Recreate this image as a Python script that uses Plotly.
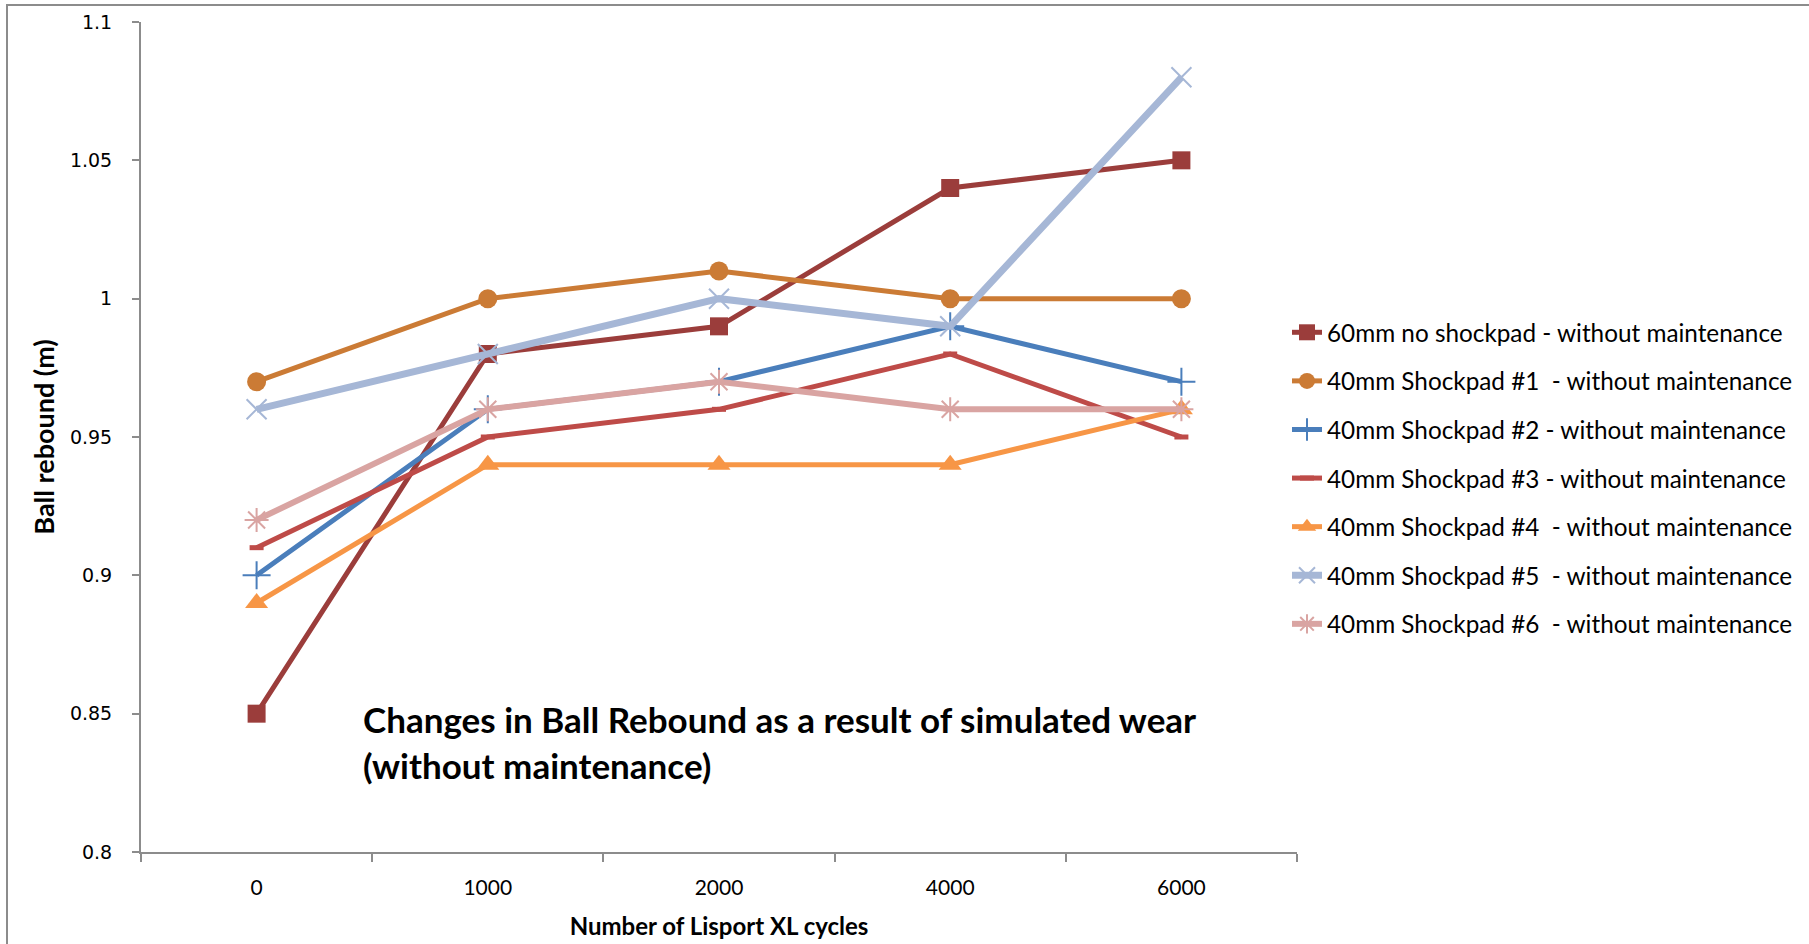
import plotly.graph_objects as go

# Wear cycles applied with the Lisport XL machine
cycles = ["0", "1000", "2000", "4000", "6000"]

# Ball rebound height (m) after each block of cycles
no_shockpad_60mm = [0.85, 0.98, 0.99, 1.04, 1.05]
shockpad_1 = [0.97, 1.00, 1.01, 1.00, 1.00]
shockpad_2 = [0.90, 0.96, 0.97, 0.99, 0.97]
shockpad_3 = [0.91, 0.95, 0.96, 0.98, 0.95]
shockpad_4 = [0.89, 0.94, 0.94, 0.94, 0.96]
shockpad_5 = [0.96, 0.98, 1.00, 0.99, 1.08]
shockpad_6 = [0.92, 0.96, 0.97, 0.96, 0.96]

series_names = [
    "60mm no shockpad - without maintenance",
    "40mm Shockpad #1  - without maintenance",
    "40mm Shockpad #2 - without maintenance",
    "40mm Shockpad #3 - without maintenance",
    "40mm Shockpad #4  - without maintenance",
    "40mm Shockpad #5  - without maintenance",
    "40mm Shockpad #6  - without maintenance",
]

y_tick_values = [0.8, 0.85, 0.9, 0.95, 1.0, 1.05, 1.1]
y_tick_labels = ["0.8", "0.85", "0.9", "0.95", "1", "1.05", "1.1"]

# (values, colour, line width, marker symbol, marker size, marker outline width)
styles = [
    (no_shockpad_60mm, "#9B3D3B", 5, "square", 18, 0),
    (shockpad_1, "#CB7B35", 5, "circle", 19, 0),
    (shockpad_2, "#4A7EBB", 5, "cross-thin-open", 20, 2),
    (shockpad_3, "#BE4B48", 5, "line-ew-open", 10, 5),
    (shockpad_4, "#F79646", 5, "triangle-up", 20, 0),
    (shockpad_5, "#A6B7D6", 7, "x-thin-open", 20, 2),
    (shockpad_6, "#D9A4A2", 6, "asterisk-open", 20, 2),
]

fig = go.Figure()
for i, (name, (vals, color, lw, sym, msize, mlw)) in enumerate(zip(series_names, styles)):
    fig.add_trace(go.Scatter(
        x=cycles, y=vals, name=name, mode="lines+markers",
        legendgroup=f"g{i}",
        line=dict(color=color, width=lw),
        marker=dict(symbol=sym, size=msize, color=color,
                    line=dict(color=color, width=mlw)),
    ))

W, H = 1809, 944
L, R, T, B = 141, 1297, 22, 852
pw, ph = R - L, B - T

def px_x(p):
    return (p - L) / pw

def px_y(p):
    return (B - p) / ph

axis_grey = "#8C8C8C"

fig.update_layout(
    width=W, height=H,
    margin=dict(l=L, r=W - R, t=T, b=H - B, pad=0, autoexpand=False),
    paper_bgcolor="white", plot_bgcolor="white",
    showlegend=True,
    legend=dict(
        x=px_x(1287), y=px_y(310), xanchor="left", yanchor="top",
        font=dict(family="Lato", size=24.3, color="#000000"),
        traceorder="grouped", tracegroupgap=14,
        bgcolor="rgba(0,0,0,0)",
    ),
    xaxis=dict(
        type="category", range=[-0.5, 4.5],
        showgrid=False, zeroline=False,
        showline=True, linecolor=axis_grey, linewidth=2,
        ticks="outside", tickson="boundaries", ticklen=8,
        tickcolor=axis_grey, tickwidth=2,
        tickfont=dict(family="Lato", size=21, color="#000000"),
        ticklabelstandoff=16,
        title=dict(text="<b>Number of Lisport XL cycles</b>",
                   font=dict(family="Lato", size=24, color="#000000"),
                   standoff=20),
    ),
    yaxis=dict(
        range=[0.8, 1.1], tickvals=y_tick_values, ticktext=y_tick_labels,
        showgrid=False, zeroline=False,
        showline=True, linecolor=axis_grey, linewidth=2,
        ticks="outside", ticklen=7, tickcolor=axis_grey, tickwidth=2,
        tickfont=dict(family="DejaVu Sans", size=19, color="#000000"),
        ticklabelstandoff=16,
        title=dict(text="<b>Ball rebound (m)</b>",
                   font=dict(family="Lato", size=27, color="#000000"),
                   standoff=7),
    ),
    annotations=[dict(
        text="<b>Changes in Ball Rebound as a result of simulated wear<br>(without maintenance)</b>",
        xref="paper", yref="paper", x=px_x(361), y=px_y(742),
        xanchor="left", yanchor="middle", align="left", showarrow=False,
        font=dict(family="Lato", size=35, color="#000000"),
    )],
    shapes=[dict(
        type="rect", xref="paper", yref="paper",
        x0=px_x(7), x1=px_x(W + 5), y0=px_y(H + 5), y1=px_y(5),
        line=dict(color=axis_grey, width=2), fillcolor="rgba(0,0,0,0)",
        layer="below",
    )],
)

fig.write_html("out.html")
